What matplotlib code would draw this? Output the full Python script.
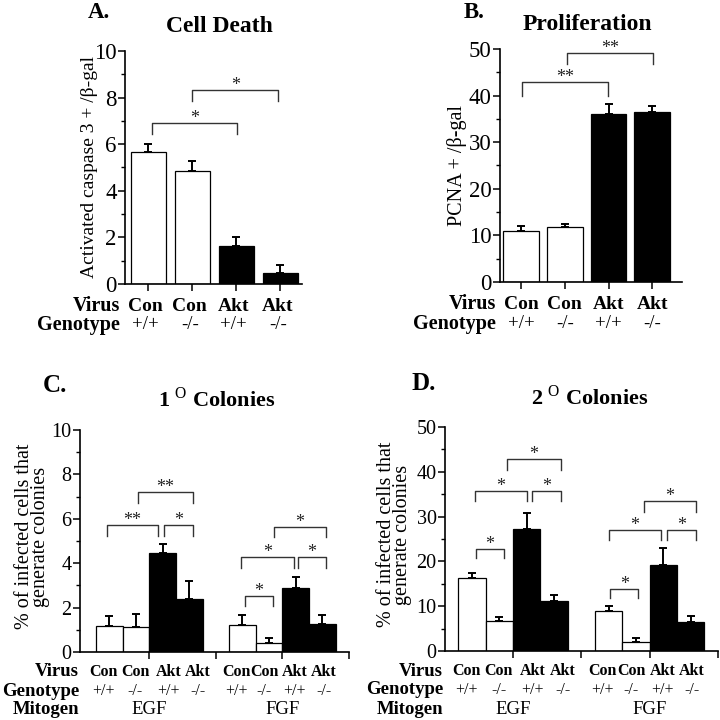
import matplotlib
matplotlib.use("Agg")
import matplotlib.pyplot as plt
from matplotlib.ticker import MultipleLocator
from matplotlib.transforms import blended_transform_factory

plt.rcParams['font.family'] = ['Liberation Serif', 'DejaVu Serif']
plt.rcParams['mathtext.fontset'] = 'custom'
plt.rcParams['mathtext.rm'] = 'Liberation Serif'
plt.rcParams['mathtext.bf'] = 'Liberation Serif:bold'

W = H = 720

# --- data ---
virus = ["Con", "Con", "Akt", "Akt"]
genotype = ["+/+", "-/-", "+/+", "-/-"]
mitogen = ["EGF", "FGF"]
fill = ["white", "white", "black", "black"]

death_mean = [5.66, 4.85, 1.65, 0.47]
death_err = [0.33, 0.44, 0.35, 0.33]
prolif_mean = [11.0, 11.7, 36.0, 36.4]
prolif_err = [1.1, 0.7, 2.2, 1.4]

col1_egf_mean = [1.15, 1.12, 4.44, 2.40]
col1_egf_err = [0.45, 0.58, 0.43, 0.78]
col1_fgf_mean = [1.20, 0.40, 2.88, 1.27]
col1_fgf_err = [0.45, 0.23, 0.49, 0.41]

col2_egf_mean = [16.4, 6.6, 27.3, 11.1]
col2_egf_err = [0.9, 1.1, 3.4, 1.4]
col2_fgf_mean = [8.9, 2.1, 19.1, 6.4]
col2_fgf_err = [1.2, 0.8, 3.9, 1.5]

# significance brackets: (x left, x right, top, leg bottom, label)
death_brackets = [(0.07, 2.02, 6.91, 6.44, "*"), (0.99, 2.95, 8.33, 7.87, "*")]
prolif_brackets = [(0.02, 1.99, 42.9, 40.0, "**"), (1.05, 3.02, 49.2, 46.8, "**")]
col1_brackets = [
    (-0.09, 1.82, 5.73, 5.23, "**"), (2.05, 3.13, 5.73, 5.23, "*"),
    (1.07, 3.13, 7.20, 6.73, "**"), (5.09, 6.13, 2.53, 2.05, "*"),
    (4.94, 6.92, 4.29, 3.80, "*"), (7.07, 8.15, 4.29, 3.80, "*"),
    (6.17, 8.15, 5.65, 5.20, "*"),
]
col2_brackets = [
    (0.15, 1.17, 22.8, 20.7, "*"), (0.11, 2.00, 35.8, 33.4, "*"),
    (2.19, 3.25, 35.8, 33.4, "*"), (1.28, 3.25, 42.8, 40.3, "*"),
    (5.04, 6.09, 13.8, 11.8, "*"), (5.00, 6.93, 27.0, 24.8, "*"),
    (7.12, 8.21, 27.0, 24.8, "*"), (6.28, 8.21, 33.5, 31.1, "*"),
]

# category labels under the colony panels sit a little off the bar centres
label_shift = [-0.22, -0.02, 0.22, 0.32, -0.23, -0.18, -0.03, 0.05]

fig = plt.figure(figsize=(7.2, 7.2), dpi=100)


def add_ax(l, t, r, b):
    return fig.add_axes([l / W, 1 - b / H, (r - l) / W, (b - t) / H])


def ftext(x, y, s, **kw):
    fig.text(x / W, 1 - y / H, s, **kw)


def style_ax(ax, ymax, major, minor, fs):
    for side in ("top", "right"):
        ax.spines[side].set_visible(False)
    for side in ("left", "bottom"):
        ax.spines[side].set_linewidth(1.2)
    ax.set_ylim(0, ymax)
    ax.yaxis.set_major_locator(MultipleLocator(major))
    ax.yaxis.set_minor_locator(MultipleLocator(minor))
    ax.tick_params(axis="y", which="major", length=5, width=1.1, labelsize=fs, pad=1)
    ax.tick_params(axis="y", which="minor", length=3, width=1.0)
    ax.tick_params(axis="x", which="both", length=5, width=1.1, labelbottom=False)


def draw_bars(ax, xs, means, errs, width):
    for x, m, e, c in zip(xs, means, errs, fill * 2):
        ax.bar(x, m, width=width, color=c, edgecolor="black", linewidth=0.9, zorder=2)
        ax.errorbar(x, m, yerr=[[0], [e]], fmt="none", ecolor="black",
                    elinewidth=1.4, capsize=3, capthick=1.4, zorder=3)


def draw_brackets(ax, brackets, fs):
    for x1, x2, top, leg, lab in brackets:
        ax.plot([x1, x1, x2, x2], [leg, top, top, leg], color="#333333",
                lw=1.0, clip_on=False, zorder=4)
        ax.annotate(lab, ((x1 + x2) / 2, top), xytext=(0, 0),
                    textcoords="offset points", ha="center", va="baseline",
                    fontsize=fs, color="#222222", annotation_clip=False)


def row_labels(ax, xs, rows, fs_head, fs_virus, fs_geno, x_head):
    trans = blended_transform_factory(ax.transData, fig.transFigure)
    for head, y, labels, bold in rows:
        ftext(x_head, y, head, ha="right", va="center", fontsize=fs_head,
              fontweight="bold")
        for x, lab in zip(xs, labels):
            ax.text(x, 1 - y / H, lab, transform=trans, ha="center", va="center",
                    fontsize=fs_virus if bold else fs_geno,
                    fontweight="bold" if bold else "normal")


# ---------------- A. Cell Death ----------------
axA = add_ax(125, 51, 302, 284)
xA = [0, 1, 2, 3]
draw_bars(axA, xA, death_mean, death_err, 0.8)
style_ax(axA, 10, 2, 1, 16.5)
axA.set_xlim(-0.534, 3.49)
axA.set_xticks(xA)
axA.set_ylabel("Activated caspase 3 + /β-gal", fontsize=14)
axA.yaxis.set_label_coords(-0.15, 0.5)
draw_brackets(axA, death_brackets, 13)
row_labels(axA, [x - 0.06 for x in xA],
           [("Virus", 306, virus, True), ("Genotype", 325, genotype, False)],
           14.5, 14, 13.5, 120)
ftext(99, 13, "A.", fontsize=16.5, fontweight="bold", ha="center", va="center")
ftext(219, 27, "Cell Death", fontsize=17, fontweight="bold", ha="center", va="center")

# ---------------- B. Proliferation ----------------
axB = add_ax(500, 49, 682, 282)
draw_bars(axB, xA, prolif_mean, prolif_err, 0.82)
style_ax(axB, 50, 10, 5, 16.5)
axB.set_xlim(-0.48, 3.68)
axB.set_xticks(xA)
axB.set_ylabel("PCNA + /β-gal", fontsize=14.5)
axB.yaxis.set_label_coords(-0.18, 0.5)
draw_brackets(axB, prolif_brackets, 13)
row_labels(axB, xA, [("Virus", 304, virus, True), ("Genotype", 324, genotype, False)],
           14.5, 14, 13.5, 496)
ftext(474, 13, "B.", fontsize=16.5, fontweight="bold", ha="center", va="center")
ftext(587, 24, "Proliferation", fontsize=17, fontweight="bold", ha="center", va="center")

# ---------------- C / D. Colonies ----------------
xCD = [0, 1, 2, 3, 5, 6, 7, 8]
group_ticks = [1.5, 4, 6.5, 9]


def colony_panel(box, means, errs, brackets, ymax, major, minor, xlim, x_head,
                 rows_y, lab_x, letter, letter_xy, title, title_xy):
    ax = add_ax(*box)
    draw_bars(ax, xCD, means, errs, 1.0)
    style_ax(ax, ymax, major, minor, 14.5)
    ax.set_xlim(*xlim)
    ax.set_xticks([t for t in group_ticks if t <= xlim[1] + 0.05])
    ax.set_ylabel("% of infected cells that\ngenerate colonies", fontsize=14.5,
                  linespacing=0.8)
    ax.yaxis.set_label_coords(lab_x, 0.52)
    draw_brackets(ax, brackets, 13)
    yv, yg, ym = rows_y
    xs_lab = [x + s for x, s in zip(xCD, label_shift)]
    row_labels(ax, xs_lab, [("Virus", yv, virus * 2, True),
                            ("Genotype", yg, genotype * 2, False)],
               13.5, 11.5, 11.5, x_head)
    ftext(x_head, ym, "Mitogen", ha="right", va="center", fontsize=13.5,
          fontweight="bold")
    trans = blended_transform_factory(ax.transData, fig.transFigure)
    for gx, m in zip([1.5, 6.5], mitogen):
        ax.text(gx, 1 - ym / H, m, transform=trans, ha="center", va="center",
                fontsize=13.5)
    ftext(*letter_xy, letter, fontsize=18, fontweight="bold", ha="center", va="center")
    ftext(*title_xy, title, fontsize=16, fontweight="bold", ha="center", va="center")
    return ax


colony_panel((80, 430, 349, 652), col1_egf_mean + col1_fgf_mean,
             col1_egf_err + col1_fgf_err, col1_brackets, 10, 2, 1, (-1.1, 8.98),
             79, (672, 691, 710), -0.112, "C.", (55, 385),
             r"1 $^{\mathrm{O}}$ Colonies", (217, 399))
colony_panel((445, 427, 718, 651), col2_egf_mean + col2_fgf_mean,
             col2_egf_err + col2_fgf_err, col2_brackets, 50, 10, 5, (-0.99, 8.98),
             443, (671, 690, 709), -0.121, "D.", (424, 383),
             r"2 $^{\mathrm{O}}$ Colonies", (590, 398))

fig.savefig("out.png", dpi=100)
